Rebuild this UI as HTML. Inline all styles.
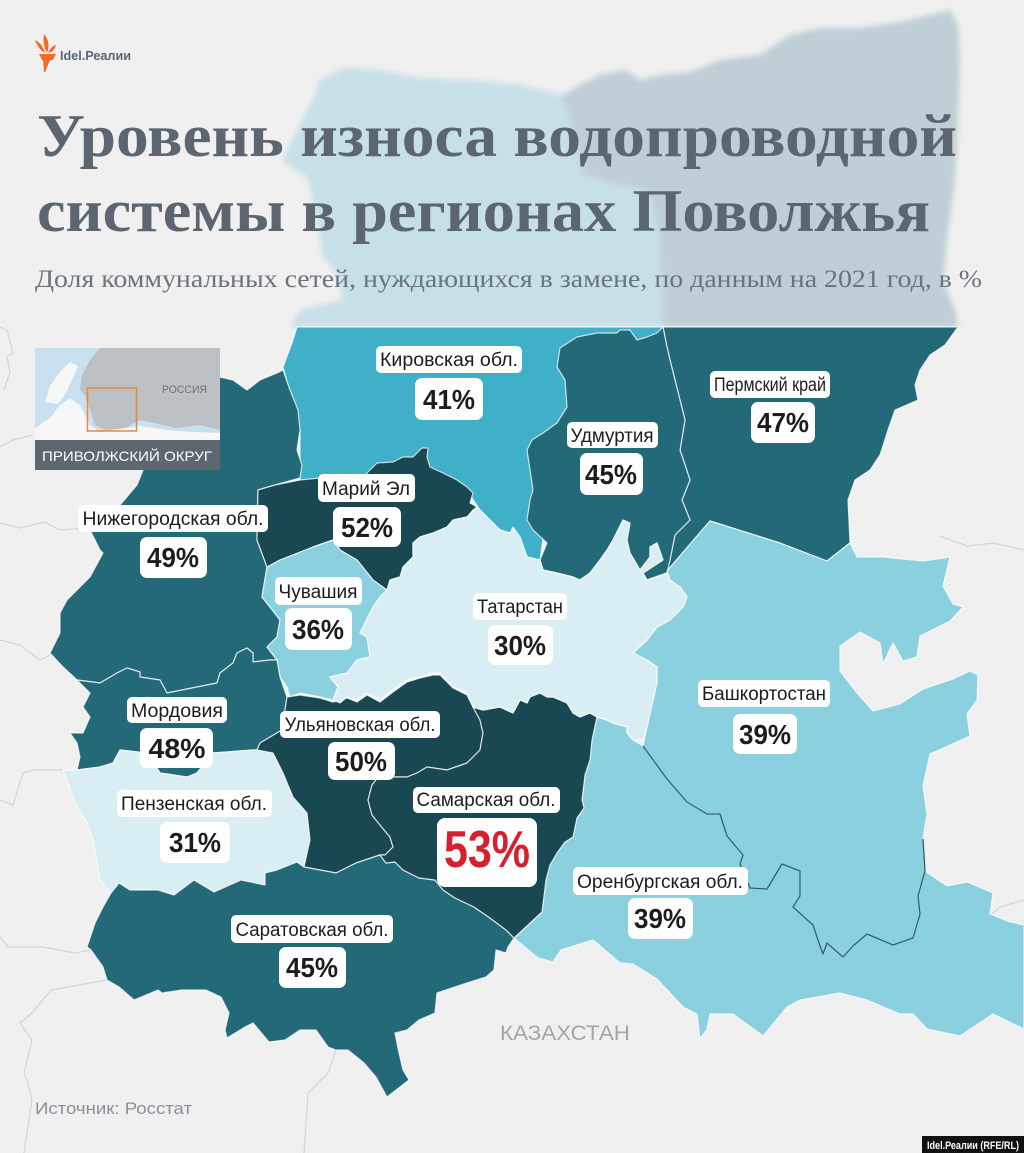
<!DOCTYPE html>
<html><head><meta charset="utf-8"><style>
html,body{margin:0;padding:0;background:#f0f0f0}
svg{display:block}
.nm{font-family:"Liberation Sans","DejaVu Sans",sans-serif;font-size:19px;fill:#1c1c1c;text-anchor:middle}
.pc{font-family:"Liberation Sans","DejaVu Sans",sans-serif;font-size:28px;font-weight:bold;fill:#1c1c1c;text-anchor:middle}
.rg{stroke:#ffffff;stroke-opacity:0.75;stroke-width:1.2;stroke-linejoin:round}
</style></head><body>
<svg width="1024" height="1153" viewBox="0 0 1024 1153" xmlns="http://www.w3.org/2000/svg">
<defs><filter id="bl" x="-10%" y="-10%" width="120%" height="120%"><feGaussianBlur stdDeviation="3"/></filter></defs>
<rect width="1024" height="1153" fill="#f0f0f0"/>

<!-- faint background borders -->
<g fill="none" stroke="#d4d4d4" stroke-width="1.2">
<polyline points="0,327 7,330 13,353 7,357 10,372 4,390"/>
<polyline points="0,447 13,440 33,435"/>
<polyline points="0,523 20,528 45,522 60,530 90,528"/>
<polyline points="0,640 20,645 40,660 50,655"/>
<polyline points="0,800 13,805 23,773 33,770 63,770"/>
<polyline points="0,937 8,947 43,947 75,953 91,950"/>
<polyline points="107,980 51,990 32,1013 20,1023 32,1040 24,1073 28,1083 32,1100 24,1153"/>
<polyline points="336,1050 328,1073 308,1093 304,1153"/>
<polyline points="940,536 967,546 993,543 1024,550"/>
<polyline points="987,918 1000,907 1024,900"/>
</g>

<!-- faint top background map -->
<g filter="url(#bl)">
<polygon fill="#c7e0e7" points="320,80 345,68 380,70 420,78 470,80 520,85 563,95 577,140 583,175 620,185 648,190 660,235 663,327 290,327 300,310 343,300 337,273 323,257 320,240 313,200 307,177 290,167 283,160 297,130 313,100"/>
<polygon fill="#bfcfd5" points="563,95 580,85 600,75 625,70 640,80 660,75 690,72 720,60 760,55 790,35 820,28 860,28 900,22 930,15 950,10 958,25 960,60 958,120 955,180 948,230 943,280 955,310 958,327 663,327 660,235 648,190 620,185 583,175 577,140 563,100"/>
</g>

<!-- regions -->
<polygon class="rg" fill="#3fb0c8" points="297,327 664,327 664,420 560,420 540,560 527,557 520,537 510,533 500,530 490,520 480,510 470,495 300,490 300,430 283,367 293,340"/>
<polygon class="rg" fill="#246978" points="663,327 958,327 945,345 930,355 920,370 915,385 918,400 895,410 888,430 880,455 870,470 855,480 848,500 850,543 827,561 780,543 710,521 697,536 667,571 670,560 675,535 690,520 682,500 690,480 680,450 685,420 680,400 670,360 667,347"/>
<polygon class="rg" fill="#246978" points="560,348 577,337 597,333 617,333 620,330 630,330 637,340 647,337 657,333 663,327 667,347 670,360 680,400 685,420 680,450 690,480 682,500 690,520 675,535 670,560 667,573 647,580 643,573 663,560 657,543 650,547 650,557 640,570 630,553 627,540 630,523 623,520 613,540 607,550 600,560 590,573 580,580 573,577 557,573 543,570 540,560 547,543 533,530 527,520 530,500 533,490 530,470 527,450 532,440 543,433 557,423 567,407 565,380 557,367"/>
<polygon class="rg" fill="#246978" points="220,377 233,380 247,390 260,380 277,373 283,370 290,390 298,410 300,430 297,450 302,465 300,478 275,485 258,490 257,540 267,567 262,597 270,607 280,620 277,637 267,647 277,660 270,660 253,662 253,653 247,648 237,653 233,663 220,673 217,683 167,693 160,680 140,677 140,672 127,668 117,673 100,683 77,680 63,667 50,653 60,633 60,613 67,600 90,577 103,553 100,550 90,530 95,520 120,505 137,485 143,470 200,420"/>
<polygon class="rg" fill="#1a4852" points="258,490 275,485 300,480 320,478 345,482 365,475 377,463 393,462 403,457 413,457 422,448 428,448 427,457 430,467 443,473 457,480 467,487 473,493 470,503 477,507 473,510 467,517 453,520 447,527 433,533 420,537 413,543 413,557 403,567 400,577 390,580 387,590 373,580 357,560 340,550 333,540 313,547 280,560 267,567 257,540"/>
<polygon class="rg" fill="#8bd0df" points="267,567 280,560 313,547 333,540 340,550 357,560 373,580 387,590 380,597 373,607 360,633 367,637 370,657 357,660 347,673 330,677 338,687 333,700 320,697 300,693 290,697 287,687 280,677 277,660 267,647 277,637 280,620 270,607 262,597"/>
<polygon class="rg" fill="#246978" points="77,680 100,683 117,673 127,668 140,672 140,677 160,680 167,693 217,683 220,673 233,663 237,653 247,648 253,653 253,662 270,660 277,660 280,677 287,697 285,710 282,730 260,743 257,750 253,750 213,753 197,773 187,777 160,773 147,753 120,750 113,763 100,767 77,770 80,757 77,743 70,733 83,733 90,717 83,707 90,693"/>
<polygon class="rg" fill="#d8eef3" points="63,770 77,770 100,767 113,763 120,750 147,753 160,773 187,777 197,773 213,753 253,750 257,750 273,753 283,773 293,797 307,813 310,840 304,867 297,862 277,870 265,873 265,885 241,880 214,892 194,880 174,895 158,890 130,890 119,883 111,893 100,880 97,863 93,840 87,823 77,807 70,790"/>
<polygon class="rg" fill="#1a4852" points="287,697 300,695 320,698 333,702 347,698 357,702 367,695 380,702 393,692 407,682 420,678 433,675 440,675 453,688 467,695 473,707 480,720 483,733 480,750 467,763 447,770 427,767 417,773 407,777 395,777 380,775 372,785 368,800 372,815 380,825 390,837 393,847 385,855 380,855 356,863 336,873 304,867 310,840 307,813 293,797 283,773 273,753 257,750 260,743 282,730 285,710"/>
<polygon class="rg" fill="#246978" points="111,893 119,883 130,890 158,890 174,895 194,880 214,892 241,880 265,885 265,873 277,870 297,862 304,867 336,873 356,863 380,855 386,863 395,862 403,870 419,878 435,880 443,890 455,898 474,907 490,918 506,930 514,938 508,947 506,953 496,950 494,970 486,977 467,983 437,993 435,1013 419,1020 407,1030 395,1033 399,1053 403,1070 409,1080 387,1097 376,1077 364,1063 348,1050 336,1050 328,1047 316,1030 300,1030 285,1040 269,1042 253,1023 245,1027 227,1038 225,1030 229,1013 221,997 206,990 182,990 162,993 158,990 134,1000 119,987 107,980 103,967 91,950 87,947 95,923 103,907"/>
<polygon class="rg" fill="#8bd0df" points="667,571 697,536 710,521 780,543 827,561 850,543 857,557 883,557 923,561 950,557 943,586 953,604 963,607 950,621 920,636 917,657 903,661 893,643 883,664 880,643 860,632 840,646 840,671 857,693 873,711 900,704 923,689 953,679 970,671 978,675 977,700 967,714 970,736 930,754 923,786 927,814 923,839 925,871 918,896 920,914 913,938 893,945 867,934 853,946 843,957 827,943 823,954 820,946 813,925 793,907 800,896 800,871 782,864 767,889 750,888 740,864 743,855 727,836 720,814 707,814 687,802 667,779 643,746 647,727 650,713 653,700 657,683 657,667 647,660 633,653 647,640 657,627 670,620 683,607 687,597 680,587 670,580"/>
<polygon fill="#8bd0df" stroke="#ffffff" stroke-opacity="0.75" stroke-width="1.2" stroke-linejoin="round" points="597,717 607,720 613,723 627,727 627,733 633,740 643,746 667,779 687,802 707,814 720,814 727,836 743,855 740,864 750,888 767,889 782,864 800,871 800,896 793,907 813,925 820,946 823,954 827,943 843,957 853,946 867,934 893,945 913,938 920,914 918,896 925,871 947,886 967,882 993,893 990,914 1007,921 1024,925 1024,1029 993,1014 960,1036 927,1029 913,1014 900,1014 867,1000 840,993 800,1000 787,1007 763,1036 733,1014 710,1014 707,1029 700,1039 697,1014 683,1007 657,979 633,964 620,963 593,940 561,950 553,962 538,958 514,938 542,912 546,880 550,865 557,853 565,842 573,837 577,818 584,808 582,800 585,775 590,760 592,740"/>
<polygon class="rg" fill="#1a4852" points="473,707 483,710 500,707 513,713 520,700 527,703 530,697 540,693 547,697 553,697 567,703 573,713 580,717 590,713 597,717 592,740 590,760 585,775 582,800 584,808 577,818 573,837 565,842 557,853 550,865 546,880 542,912 514,938 506,930 490,918 474,907 455,898 443,890 435,880 419,878 403,870 395,862 386,863 380,855 385,855 393,847 390,837 380,825 372,815 368,800 372,785 380,775 395,777 407,777 417,773 427,767 447,770 467,763 480,750 483,733 480,720"/>
<polygon class="rg" fill="#d8eef3" points="340,703 333,700 338,687 330,677 347,673 357,660 370,657 367,637 360,633 373,607 380,597 387,590 390,580 400,577 403,567 413,557 413,543 420,537 433,533 447,527 453,520 467,517 477,507 480,510 490,520 500,530 510,533 513,527 520,537 527,557 540,560 543,570 557,573 573,577 580,580 590,573 600,560 607,550 613,540 623,520 630,523 627,540 630,553 640,570 650,557 650,547 657,543 663,560 643,573 647,580 667,573 670,580 680,587 687,597 683,607 670,620 657,627 647,640 633,653 647,660 657,667 657,683 653,700 650,713 647,727 643,740 633,740 627,733 627,727 613,723 607,720 597,717 590,713 580,717 573,713 567,703 553,697 547,697 540,693 530,697 527,703 520,700 513,713 500,707 483,710 473,707 467,693 453,687 440,673 433,673 420,677 407,680 393,690 380,700 367,693 357,700 347,697"/>
<polyline fill="none" stroke="#2d5f6a" stroke-width="1.3" stroke-linejoin="round" points="643,746 667,779 687,802 707,814 720,814 727,836 743,855 740,864 750,888 767,889 782,864 800,871 800,896 793,907 813,925 820,946 823,954 827,943 843,957 853,946 867,934 893,945 913,938 920,914 918,896 925,871 923,839"/>

<!-- title -->
<text x="37" y="156" textLength="920" lengthAdjust="spacingAndGlyphs" font-family="Liberation Serif, serif" font-weight="bold" font-size="60" fill="#5b6670">Уровень износа водопроводной</text>
<text x="37" y="231" textLength="893" lengthAdjust="spacingAndGlyphs" font-family="Liberation Serif, serif" font-weight="bold" font-size="60" fill="#5b6670">системы в регионах Поволжья</text>
<text x="35" y="287" textLength="947" lengthAdjust="spacingAndGlyphs" font-family="Liberation Serif, serif" font-size="25" fill="#6b747c">Доля коммунальных сетей, нуждающихся в замене, по данным на 2021 год, в %</text>

<!-- logo -->
<g fill="#f26d21">
<path d="M35 40 Q42 43 45 53 Q39 50 35 40 Z"/>
<path d="M44 34 Q51 42 47 53 Q42 44 44 34 Z"/>
<path d="M56 45 Q51 46 48 53 Q54 52 56 45 Z"/>
<path d="M39 54 L56 54 L53 60 L42 60 Z"/>
<path d="M43 60 L50 60 L45 72 L44 72 Z"/>
</g>
<text x="60" y="60" textLength="71" lengthAdjust="spacingAndGlyphs" font-family="Liberation Sans, sans-serif" font-weight="bold" font-size="13" fill="#5a6570">Idel.Реалии</text>

<!-- inset -->
<g>
<rect x="35" y="348" width="185" height="92" fill="#c8e0f0"/>
<polygon fill="#bcc1c5" points="100,348 220,348 220,430 200,425 175,428 150,422 140,420 125,428 105,430 95,425 90,410 85,395 80,390 82,375 90,360"/>
<polygon fill="#f7f7f7" points="35,440 35,428 50,418 60,405 70,398 80,405 90,425 100,432 140,426 175,431 220,433 220,440"/>
<polygon fill="#f7f7f7" points="45,402 50,386 60,372 70,362 78,366 72,380 66,393 58,404"/>
<rect x="87.5" y="388" width="49" height="43" fill="none" stroke="#e8893a" stroke-width="1.5"/>
<text x="162" y="393" font-family="Liberation Sans, sans-serif" font-size="11" fill="#6a737b" textLength="45" lengthAdjust="spacingAndGlyphs">РОССИЯ</text>
<rect x="35" y="440" width="185" height="30" fill="#5c6770"/>
<text x="42" y="461" font-family="Liberation Sans, sans-serif" font-size="14" fill="#ffffff" textLength="170" lengthAdjust="spacingAndGlyphs">ПРИВОЛЖСКИЙ ОКРУГ</text>
</g>

<!-- labels -->
<g fill="#ffffff">
<rect x="376" y="346" width="146" height="27" rx="5"/><rect x="415" y="378" width="68" height="42" rx="7"/>
<rect x="567" y="422" width="91" height="26" rx="5"/><rect x="580" y="453" width="63" height="42" rx="7"/>
<rect x="710" y="371" width="120" height="27" rx="5"/><rect x="751" y="402" width="64" height="41" rx="7"/>
<rect x="318" y="474" width="97" height="28" rx="5"/><rect x="333" y="507" width="68" height="40" rx="7"/>
<rect x="78" y="505" width="190" height="27" rx="5"/><rect x="140" y="537" width="67" height="41" rx="7"/>
<rect x="275" y="577" width="87" height="28" rx="5"/><rect x="285" y="608" width="67" height="42" rx="7"/>
<rect x="473" y="593" width="94" height="27" rx="5"/><rect x="488" y="625" width="65" height="40" rx="7"/>
<rect x="698" y="680" width="132" height="27" rx="5"/><rect x="733" y="714" width="64" height="40" rx="7"/>
<rect x="127" y="697" width="100" height="26" rx="5"/><rect x="140" y="728" width="73" height="40" rx="7"/>
<rect x="280" y="711" width="160" height="27" rx="5"/><rect x="328" y="742" width="67" height="38" rx="7"/>
<rect x="117" y="790" width="155" height="27" rx="5"/><rect x="160" y="822" width="70" height="41" rx="7"/>
<rect x="413" y="787" width="147" height="26" rx="5"/><rect x="437" y="818" width="100" height="69" rx="8"/>
<rect x="573" y="867" width="175" height="28" rx="5"/><rect x="628" y="898" width="65" height="41" rx="7"/>
<rect x="231" y="915" width="162" height="28" rx="5"/><rect x="279" y="947" width="67" height="41" rx="7"/>
</g>
<g>
<text class="nm" x="449" y="366" textLength="138" lengthAdjust="spacingAndGlyphs">Кировская обл.</text><text class="pc" x="449" y="409" textLength="52" lengthAdjust="spacingAndGlyphs">41%</text>
<text class="nm" x="612" y="442" textLength="83" lengthAdjust="spacingAndGlyphs">Удмуртия</text><text class="pc" x="611" y="484" textLength="52" lengthAdjust="spacingAndGlyphs">45%</text>
<text class="nm" x="770" y="391" textLength="112" lengthAdjust="spacingAndGlyphs">Пермский край</text><text class="pc" x="783" y="432" textLength="52" lengthAdjust="spacingAndGlyphs">47%</text>
<text class="nm" x="366" y="495" textLength="88" lengthAdjust="spacingAndGlyphs">Марий Эл</text><text class="pc" x="367" y="537" textLength="52" lengthAdjust="spacingAndGlyphs">52%</text>
<text class="nm" x="173" y="525" textLength="181" lengthAdjust="spacingAndGlyphs">Нижегородская обл.</text><text class="pc" x="173" y="567" textLength="52" lengthAdjust="spacingAndGlyphs">49%</text>
<text class="nm" x="318" y="598" textLength="79" lengthAdjust="spacingAndGlyphs">Чувашия</text><text class="pc" x="318" y="639" textLength="52" lengthAdjust="spacingAndGlyphs">36%</text>
<text class="nm" x="520" y="613" textLength="86" lengthAdjust="spacingAndGlyphs">Татарстан</text><text class="pc" x="520" y="655" textLength="52" lengthAdjust="spacingAndGlyphs">30%</text>
<text class="nm" x="764" y="700" textLength="124" lengthAdjust="spacingAndGlyphs">Башкортостан</text><text class="pc" x="765" y="744" textLength="52" lengthAdjust="spacingAndGlyphs">39%</text>
<text class="nm" x="177" y="717" textLength="92" lengthAdjust="spacingAndGlyphs">Мордовия</text><text class="pc" x="177" y="758" textLength="57" lengthAdjust="spacingAndGlyphs">48%</text>
<text class="nm" x="360" y="731" textLength="151" lengthAdjust="spacingAndGlyphs">Ульяновская обл.</text><text class="pc" x="361" y="771" textLength="52" lengthAdjust="spacingAndGlyphs">50%</text>
<text class="nm" x="194" y="810" textLength="146" lengthAdjust="spacingAndGlyphs">Пензенская обл.</text><text class="pc" x="195" y="852" textLength="52" lengthAdjust="spacingAndGlyphs">31%</text>
<text class="nm" x="486" y="806" textLength="139" lengthAdjust="spacingAndGlyphs">Самарская обл.</text>
<text x="487" y="867" text-anchor="middle" font-family="Liberation Sans, sans-serif" font-weight="bold" font-size="52" fill="#d6202f" textLength="86" lengthAdjust="spacingAndGlyphs">53%</text>
<text class="nm" x="660" y="888" textLength="166" lengthAdjust="spacingAndGlyphs">Оренбургская обл.</text><text class="pc" x="660" y="928" textLength="52" lengthAdjust="spacingAndGlyphs">39%</text>
<text class="nm" x="312" y="936" textLength="153" lengthAdjust="spacingAndGlyphs">Саратовская обл.</text><text class="pc" x="312" y="977" textLength="52" lengthAdjust="spacingAndGlyphs">45%</text>
</g>

<text x="500" y="1040" font-family="Liberation Sans, sans-serif" font-size="21" fill="#a2a7ac" textLength="130" lengthAdjust="spacingAndGlyphs">КАЗАХСТАН</text>
<text x="35" y="1114" font-family="Liberation Sans, sans-serif" font-size="17" fill="#8a9096" textLength="157" lengthAdjust="spacingAndGlyphs">Источник: Росстат</text>

<rect x="922" y="1136" width="102" height="17" fill="#111111"/>
<text x="927" y="1149" font-family="Liberation Sans, sans-serif" font-weight="bold" font-size="11" fill="#ffffff" textLength="92" lengthAdjust="spacingAndGlyphs">Idel.Реалии (RFE/RL)</text>
</svg>
</body></html>
